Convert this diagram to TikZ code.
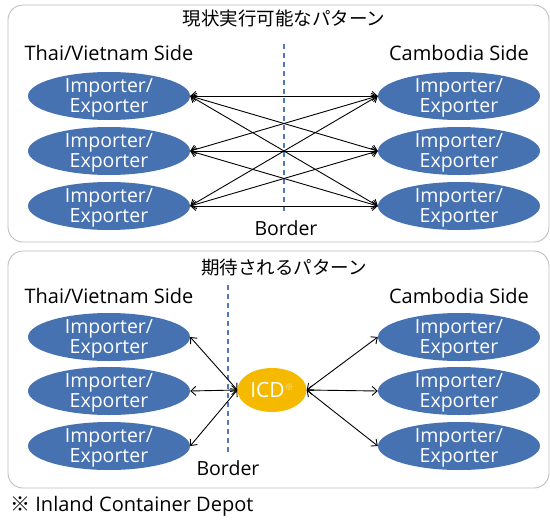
\documentclass[tikz,border=0pt]{standalone}
\usepackage{fontspec}
\setmainfont{Open Sans}
\newfontfamily\jp{Noto Sans CJK JP}
\usetikzlibrary{shapes.geometric,arrows.meta}
\definecolor{partyblue}{RGB}{70,114,178}
\definecolor{icdyellow}{RGB}{245,185,0}
\definecolor{panelgray}{RGB}{190,190,190}
\definecolor{borderblue}{RGB}{80,120,190}
% two-line trader label; smashed so the glyphs, not the struts, sit centred
\newcommand\traderlabel{\raisebox{-15pt}{\smash{\begin{tabular}{@{}c@{}}Importer/\\Exporter\end{tabular}}}}
\tikzset{
  panel/.style={draw=panelgray, line width=0.9pt, rounded corners=15pt},
  party/.style={ellipse, fill=partyblue, text=white, minimum width=162pt,
    minimum height=48pt, inner sep=0pt,
    font=\fontsize{19.5}{18}\selectfont},
  hub/.style={ellipse, fill=icdyellow, text=white, minimum width=69pt,
    minimum height=44pt, inner sep=0pt, font=\fontsize{21}{21}\selectfont},
  sidelabel/.style={font=\fontsize{20}{22}\selectfont, inner sep=0pt},
  heading/.style={font=\jp\fontsize{18.5}{20}\selectfont, inner sep=0pt},
  borderlabel/.style={font=\fontsize{19.5}{21}\selectfont, inner sep=0pt},
  borderline/.style={draw=borderblue, line width=1.8pt, dash pattern=on 5pt off 4pt},
  link/.style={line width=0.9pt, {Straight Barb[length=5pt,width=9pt]}-{Straight Barb[length=5pt,width=9pt]}}
}
\begin{document}
\begin{tikzpicture}[x=1pt,y=-1pt]
\useasboundingbox (0,0) rectangle (550,520);

% upper panel: direct trade across the border
\draw[panel] (8,5) rectangle (549,242);
\node[heading] (h1) at (284,19) {現状実行可能なパターン};
\node[sidelabel] (s1l) at (109,53) {Thai/Vietnam Side};
\node[sidelabel] (s1r) at (459,53) {Cambodia Side};
\coordinate (b1t) at (284,44);
\coordinate (b1b) at (284,212);
\draw[borderline] (b1t) -- (b1b);
\node[borderlabel] (bl1) at (286,228) {Border};

\foreach \i/\y in {1/96,2/151,3/206} {
  \node[party] (L\i) at (109,\y) {\traderlabel};
  \node[party] (R\i) at (459,\y) {\traderlabel};
}
\foreach \i in {1,2,3} {
  \foreach \j in {1,2,3} {
    \draw[link] (L\i.east) -- (R\j.west);
  }
}

% lower panel: trade routed through the ICD
\draw[panel] (8,251) rectangle (549,488);
\node[heading] (h2) at (284,268) {期待されるパターン};
\node[sidelabel] (s2l) at (109,296) {Thai/Vietnam Side};
\node[sidelabel] (s2r) at (459,296) {Cambodia Side};
\coordinate (b2t) at (228,285);
\coordinate (b2b) at (228,455);
\draw[borderline] (b2t) -- (b2b);
\node[borderlabel] (bl2) at (228,468) {Border};

\foreach \i/\y in {1/337,2/391,3/446} {
  \node[party] (P\i) at (109,\y) {\traderlabel};
  \node[party] (Q\i) at (459,\y) {\traderlabel};
}
\node[hub] (icd) at (272,390) {ICD\raisebox{0.6ex}{\jp\fontsize{9}{9}\selectfont\color{white!65!icdyellow}※}};
\foreach \i in {1,2,3} {
  \draw[link] (icd.west) -- (P\i.east);
  \draw[link] (icd.east) -- (Q\i.west);
}

% footnote
\node[anchor=west, inner sep=0pt, font=\fontsize{20}{22}\selectfont] (note) at (10,506)
  {{\jp ※} Inland Container Depot};
\end{tikzpicture}
\end{document}
